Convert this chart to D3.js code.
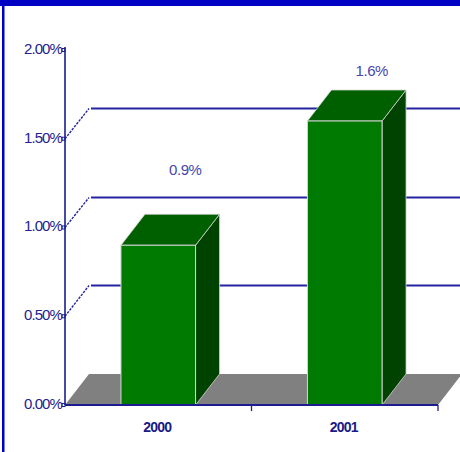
<!DOCTYPE html>
<html>
<head>
<meta charset="utf-8">
<script src="https://cdn.jsdelivr.net/npm/d3@7"></script>
<style>
  html, body { margin: 0; padding: 0; background: #ffffff; }
  svg { display: block; }
  text { font-family: "Liberation Sans", Arial, sans-serif; }
</style>
</head>
<body>
<svg id="chart" width="460" height="452"></svg>
<script>
// Chart data
const categories = ["2000", "2001"];
const values = [0.009, 0.016];
const valueLabels = ["0.9%", "1.6%"];
const yTicks = [0, 0.005, 0.01, 0.015, 0.02];
const yTickLabels = ["0.00%", "0.50%", "1.00%", "1.50%", "2.00%"];

// Layout and style
const W = 460, H = 452;
const plot = { left: 65, right: 438, top: 50, bottom: 405 };
const depth = { dx: 24, dy: -31 };   // oblique 3D offset of the back wall
const colors = {
  frame: "#0000c4",
  axis: "#1c1c90",
  grid: "#2424a0",
  floor: "#808080",
  front: "#007a00",
  top: "#006000",
  side: "#004200",
  edge: "#d4d4d4",
  tickText: "#22228f",
  catText: "#1a1a88",
  valueText: "#4646b0"
};

const svg = d3.select("#chart");

const x = d3.scaleBand().domain(categories).range([plot.left, plot.right]).padding(0);
const y = d3.scaleLinear().domain([0, 0.02]).range([plot.bottom, plot.top]);
const barW = x.bandwidth() * 0.4;
const snap = v => Math.round(v) + 0.5;

// Frame
svg.append("rect").attr("x", 0).attr("y", 0).attr("width", W).attr("height", 6).attr("fill", colors.frame);
svg.append("rect").attr("x", 2).attr("y", 0).attr("width", 2.5).attr("height", H).attr("fill", colors.frame);

// Floor
const floorPts = [
  [plot.left, plot.bottom],
  [plot.left + depth.dx, plot.bottom + depth.dy],
  [plot.right + depth.dx, plot.bottom + depth.dy],
  [plot.right, plot.bottom]
];
svg.append("polygon").attr("points", floorPts.map(p => p.join(",")).join(" ")).attr("fill", colors.floor);

// Back-wall gridlines (with dotted connector to the axis)
const gridVals = yTicks.filter(v => v > 0 && v < 0.02);
const grid = svg.append("g");
gridVals.forEach(v => {
  const yy = y(v);
  const yBack = snap(yy + depth.dy);
  grid.append("line")
    .attr("x1", plot.left).attr("y1", yy)
    .attr("x2", plot.left + depth.dx).attr("y2", yBack)
    .attr("stroke", colors.grid).attr("stroke-width", 1.4)
    .attr("stroke-dasharray", "2.5,1.2");
  grid.append("line")
    .attr("x1", plot.left + depth.dx + 2).attr("y1", yBack)
    .attr("x2", plot.right + depth.dx).attr("y2", yBack)
    .attr("stroke", colors.grid).attr("stroke-width", 1.8);
});

// Bars as oblique boxes
const bars = svg.append("g");
categories.forEach((c, i) => {
  const v = values[i];
  const x0 = x(c) + (x.bandwidth() - barW) / 2;
  const x1 = x0 + barW;
  const yt = y(v);
  const yb = y(0);
  const poly = pts => pts.map(p => p.join(",")).join(" ");
  // side face
  bars.append("polygon")
    .attr("points", poly([[x1, yt], [x1 + depth.dx, yt + depth.dy], [x1 + depth.dx, yb + depth.dy], [x1, yb]]))
    .attr("fill", colors.side).attr("stroke", colors.edge).attr("stroke-width", 0.8);
  // top face
  bars.append("polygon")
    .attr("points", poly([[x0, yt], [x0 + depth.dx, yt + depth.dy], [x1 + depth.dx, yt + depth.dy], [x1, yt]]))
    .attr("fill", colors.top).attr("stroke", colors.edge).attr("stroke-width", 0.8);
  // front face
  bars.append("rect")
    .attr("x", x0).attr("y", yt).attr("width", barW).attr("height", yb - yt)
    .attr("fill", colors.front).attr("stroke", colors.edge).attr("stroke-width", 1);

  // value label above the box, pulled a fifth of the way toward the top edge
  const backTop = yt + depth.dy;
  bars.append("text")
    .attr("x", x(c) + x.bandwidth() / 2 + depth.dx + 3)
    .attr("y", d3.interpolateNumber(backTop, 0)(0.2))
    .attr("text-anchor", "middle").attr("dominant-baseline", "middle")
    .attr("font-size", 15).attr("letter-spacing", -0.4).attr("fill", colors.valueText)
    .text(valueLabels[i]);
});

// Y axis
const yAxis = svg.append("g");
yAxis.append("line")
  .attr("x1", plot.left).attr("y1", y(0.02) - 3).attr("x2", plot.left).attr("y2", plot.bottom)
  .attr("stroke", colors.axis).attr("stroke-width", 1.6);
yTicks.forEach((v, i) => {
  yAxis.append("rect")
    .attr("x", plot.left - 3).attr("y", y(v) - 1.5).attr("width", 3).attr("height", 3)
    .attr("fill", "none").attr("stroke", colors.axis).attr("stroke-width", 1);
  yAxis.append("text")
    .attr("x", plot.left - 3).attr("y", y(v))
    .attr("text-anchor", "end").attr("dominant-baseline", "middle")
    .attr("font-size", 15).attr("letter-spacing", -0.9).attr("fill", colors.tickText)
    .text(yTickLabels[i]);
});

// X axis
const xAxis = svg.append("g");
xAxis.append("line")
  .attr("x1", plot.left).attr("y1", plot.bottom).attr("x2", plot.right).attr("y2", plot.bottom)
  .attr("stroke", colors.axis).attr("stroke-width", 1.8);
categories.forEach((c, i) => {
  const bx = x(c) + x.bandwidth();
  xAxis.append("line")
    .attr("x1", bx).attr("y1", plot.bottom).attr("x2", bx).attr("y2", plot.bottom + 6)
    .attr("stroke", colors.axis).attr("stroke-width", 1.3);
  xAxis.append("text")
    .attr("x", x(c) + x.bandwidth() / 2 - 1).attr("y", plot.bottom + 23)
    .attr("text-anchor", "middle").attr("dominant-baseline", "middle")
    .attr("font-size", 14).attr("font-weight", "bold").attr("letter-spacing", -0.8)
    .attr("fill", colors.catText)
    .text(c);
});
</script>
</body>
</html>
